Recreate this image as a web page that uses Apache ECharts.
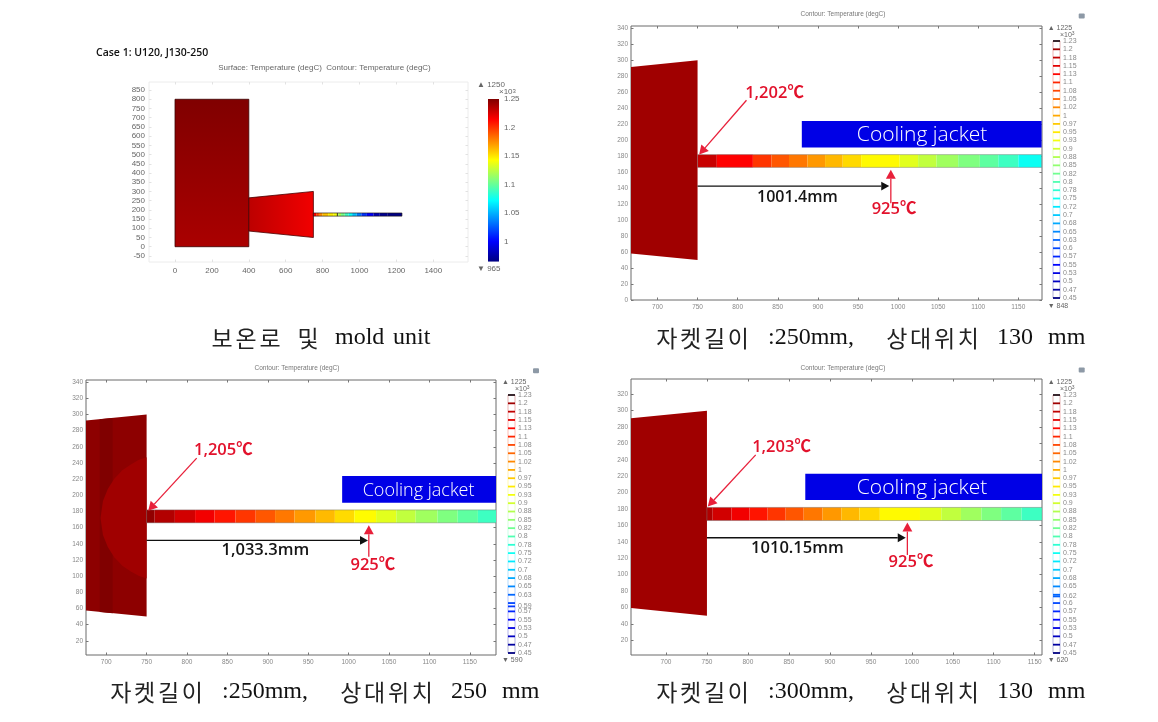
<!DOCTYPE html>
<html><head><meta charset="utf-8">
<style>html,body{margin:0;padding:0;background:#fff}#c{width:1158px;height:722px}</style>
<script src="https://cdn.jsdelivr.net/npm/echarts@6/dist/echarts.min.js"></script>
</head><body><div id="c"></div>
<script>
// ---------- tick values ----------
const ticksAX = [0,200,400,600,800,1000,1200,1400];
const ticksAY = [-50,0,50,100,150,200,250,300,350,400,450,500,550,600,650,700,750,800,850];
const ticksZoomX = [700,750,800,850,900,950,1000,1050,1100,1150];
const ticksBY = [0,20,40,60,80,100,120,140,160,180,200,220,240,260,280,300,320,340];
const ticksCY = [20,40,60,80,100,120,140,160,180,200,220,240,260,280,300,320,340];
const ticksDY = [20,40,60,80,100,120,140,160,180,200,220,240,260,280,300,320];
const ticksABar = [1000,1050,1100,1150,1200,1250];

// ---------- geometry (model coordinates, mm) ----------
const furnace = [[0,0],[400,0],[400,800],[0,800]];
const mold = [[400,85],[750,50],[750,300],[400,265]];
const stripA = [166,183];
const stripZoom = [166,182];

// ---------- temperature readings (degC) ----------
const panelAStripEdges = [750,765,780,800,830,860,885,900,920,940,960,985,1010,1040,1075,1110,1150,1230];
const panelAStripTemps = [1215,1195,1175,1160,1148,1140,1120,1105,1090,1075,1055,1035,1015,1000,980,970,966];
const panelAFurnaceTemps = [1250,1238];
const panelAMoldTemps = [1233,1218];
const panelABarRange = [965,1250];
const panelBStripEdges = [750,774,819,842,864,887,909,931,954,1002,1025,1048,1075,1102,1125,1150,1179];
const panelBStripTemps = [1170,1128,1088,1063,1038,1013,988,963,938,912,887,862,837,812,787,750];
const panelCStripEdges = [750,760,785,810,834,860,885,909,933,959,983,1007,1034,1059,1083,1110,1135,1160,1183];
const panelCStripTemps = [1212,1187,1162,1137,1112,1087,1062,1037,1012,987,962,937,912,887,862,837,812,787];
const panelDStripEdges = [750,757,780,802,824,846,868,891,914,936,961,1010,1036,1060,1085,1109,1134,1159];
const panelDStripTemps = [1188,1163,1138,1113,1088,1063,1038,1013,988,963,938,912,887,862,837,812,787];
const panelMoldTemp = 1200;
const panelCOuterTemp = 1215;
const panelCStripe = [[692,55.8],[708,54.2],[708,295.8],[692,294.2]];
const panelCStripeTemp = 1226;
const panelCContour = [[750,247],[740,243.6],[730,238],[720,231],[710,220.6],[702,208],[696,193],[693,172],[696,151],[702,136],[710,123.4],[720,113],[730,106],[740,100.4],[750,97]];

// ---------- jackets and annotations (model coordinates) ----------
const panelBJacket = [880,1179,191,224];
const panelCJacket = [992,1183,191,224];
const panelDJacket = [870,1159,191,223];
const panelBJacketLabel = ["Cooling jacket",1030,206.5];
const panelCJacketLabel = ["Cooling jacket",1086.6,205.7];
const panelDJacketLabel = ["Cooling jacket",1012.5,206];
const panelBTempNotes = [["1,202℃",846,259],["925℃",995,113]];
const panelCTempNotes = [["1,205℃",845,256],["925℃",1030,113]];
const panelDTempNotes = [["1,203℃",841,255],["925℃",999,114.6]];
const panelBLengthNote = ["1001.4mm",874.5,128.5];
const panelCLengthNote = ["1,033.3mm",897,131.5];
const panelDLengthNote = ["1010.15mm",860.4,131.7];
const panelBRedArrows = [[811,250,752,182],[991,121,991,163]];
const panelCRedArrows = [[812,246,752,181],[1025,124,1025,163]];
const panelDRedArrows = [[809.5,246,751,183],[994.6,124,994.6,163.5]];
const panelBBlackArrow = [750,142.6,989,142.6];
const panelCBlackArrow = [750,144.3,1024,144.3];
const panelDBlackArrow = [750,145,992.6,145];

// ---------- contour legend levels ----------
const levelsBase = [1225,1200,1175,1150,1125,1100,1075,1050,1025,1000,975,950,925,900,875,850,825,800,775,750,725,700,675,650,625,600,575,550,525,500,475,450];
const labelsBase = ["1.23","1.2","1.18","1.15","1.13","1.1","1.08","1.05","1.02","1","0.97","0.95","0.93","0.9","0.88","0.85","0.82","0.8","0.78","0.75","0.72","0.7","0.68","0.65","0.63","0.6","0.57","0.55","0.53","0.5","0.47","0.45"];
const levelsC = [1225,1200,1175,1150,1125,1100,1075,1050,1025,1000,975,950,925,900,875,850,825,800,775,750,725,700,675,650,625,600,590,575,550,525,500,475,450];
const labelsC = ["1.23","1.2","1.18","1.15","1.13","1.1","1.08","1.05","1.02","1","0.97","0.95","0.93","0.9","0.88","0.85","0.82","0.8","0.78","0.75","0.72","0.7","0.68","0.65","0.63","","0.59","0.57","0.55","0.53","0.5","0.47","0.45"];
const levelsD = [1225,1200,1175,1150,1125,1100,1075,1050,1025,1000,975,950,925,900,875,850,825,800,775,750,725,700,675,650,625,620,600,575,550,525,500,475,450];
const labelsD = ["1.23","1.2","1.18","1.15","1.13","1.1","1.08","1.05","1.02","1","0.97","0.95","0.93","0.9","0.88","0.85","0.82","0.8","0.78","0.75","0.72","0.7","0.68","0.65","","0.62","0.6","0.57","0.55","0.53","0.5","0.47","0.45"];
const scaleZoom = [450,1225];

// ---------- texts ----------
const caseLabel = "Case 1: U120, J130-250";
const titleA = "Surface: Temperature (degC)  Contour: Temperature (degC)";
const titleZoom = "Contour: Temperature (degC)";
const maxMinA = ["▲ 1250","▼ 965"];
const maxMinB = ["▲ 1225","▼ 848"];
const maxMinC = ["▲ 1225","▼ 590"];
const maxMinD = ["▲ 1225","▼ 620"];
const captionA = [["보온로",0],["및",86],["mold",125],["unit",183]];
const captionJ = [["자켓길이",0],[":250mm,",113],["상대위치",230],["130",342],["mm",393]];
const captionK = [["자켓길이",0],[":250mm,",113],["상대위치",230],["250",342],["mm",393]];
const captionL = [["자켓길이",0],[":300mm,",113],["상대위치",230],["130",342],["mm",393]];

// ---------- helpers ----------
const clamp = v => Math.max(0,Math.min(1,v));
function jet(t){
  const f = o => clamp(1.5-Math.abs(4*t-o));
  return 'rgb('+Math.round(255*f(3))+','+Math.round(255*f(2))+','+Math.round(255*f(1))+')';
}
const tempColor = (T,r) => jet(clamp((T-r[0])/(r[1]-r[0])));
const LG = (x2,y2,stops) => new echarts.graphic.LinearGradient(0,0,x2,y2,stops.map((c,i)=>({offset:i/(stops.length-1),color:c})));
const G = {
  gridColor:'#6a6a6a', label:'#888', red:'#e2122c', redLine:'#e8203a',
  sans:'"Open Sans","Noto Sans CJK KR",sans-serif', tick:'"Liberation Sans",sans-serif'
};
const polygon = (pts,api,fill,stroke) => ({type:'polygon',shape:{points:pts.map(p=>api.coord(p))},style:{fill,stroke:stroke||null,lineWidth:stroke?0.8:0}});
function boxShape(x0,x1,y0,y1,api,fill,stroke){
  return polygon([[x0,y0],[x1,y0],[x1,y1],[x0,y1]],api,fill,stroke);
}
function arrow(a,api,color,head,lw){
  const p=api.coord([a[0],a[1]]), q=api.coord([a[2],a[3]]);
  const d=Math.hypot(q[0]-p[0],q[1]-p[1]), u=[(q[0]-p[0])/d,(q[1]-p[1])/d], n=[-u[1],u[0]];
  const b=[q[0]-u[0]*head,q[1]-u[1]*head], w=head*0.55;
  return {type:'group',children:[
    {type:'line',shape:{x1:p[0],y1:p[1],x2:b[0],y2:b[1]},style:{stroke:color,lineWidth:lw}},
    {type:'polygon',shape:{points:[q,[b[0]+n[0]*w,b[1]+n[1]*w],[b[0]-n[0]*w,b[1]-n[1]*w]]},style:{fill:color}}
  ]};
}
function dataText(t,x,y,api,font,fill){
  const p=api.coord([x,y]);
  return {type:'text',style:{text:t,x:p[0],y:p[1],font,fill,align:'center',verticalAlign:'middle'}};
}
function overlay(idx,items){
  return {type:'custom',coordinateSystem:'cartesian2d',xAxisIndex:idx,yAxisIndex:idx,silent:true,clip:true,animation:false,
    data:items.map((_,i)=>[i]),renderItem:(p,api)=>items[p.dataIndex](api)};
}
function stripItems(edges,temps,range,ys,stroke){
  const out=temps.map((T,i)=>api=>boxShape(edges[i],edges[i+1],ys[0],ys[1],api,tempColor(T,range)));
  out.push(api=>boxShape(edges[0],edges[edges.length-1],ys[0],ys[1],api,'rgba(0,0,0,0)',stroke));
  return out;
}

// ---------- grids & axes ----------
const grids=[], xAxes=[], yAxes=[], series=[];
function addPanel(box,xr,yr,xt,yt,fs,frame,tickColor,xm){
  const g=grids.length;
  grids.push({left:box[0],top:box[1],width:box[2],height:box[3],show:true,borderColor:frame,borderWidth:1,backgroundColor:'transparent'});
  const idx=xAxes.length;
  const tick=(vals)=>({show:true,inside:true,length:2.5,customValues:vals,lineStyle:{color:tickColor,width:1}});
  const noLine={show:false,onZero:false};
  const fmt=v=>String(v);
  xAxes.push({type:'value',gridIndex:g,min:xr[0],max:xr[1],position:'bottom',splitLine:{show:false},axisLine:noLine,axisTick:tick(xt),
    axisLabel:{customValues:xt,formatter:fmt,fontSize:fs,color:G.label,fontFamily:G.tick,margin:xm,hideOverlap:false}});
  yAxes.push({type:'value',gridIndex:g,min:yr[0],max:yr[1],position:'left',splitLine:{show:false},axisLine:noLine,axisTick:tick(yt),
    axisLabel:{customValues:yt,formatter:fmt,fontSize:fs,color:G.label,fontFamily:G.tick,margin:3,hideOverlap:false}});
  xAxes.push({type:'value',gridIndex:g,min:xr[0],max:xr[1],position:'top',splitLine:{show:false},axisLine:noLine,axisTick:tick(xt),axisLabel:{show:false}});
  yAxes.push({type:'value',gridIndex:g,min:yr[0],max:yr[1],position:'right',splitLine:{show:false},axisLine:noLine,axisTick:tick(yt),axisLabel:{show:false}});
  return idx;
}
function addLegend(box,levels,labels,range){
  const g=grids.length;
  grids.push({left:box[0],top:box[1],width:box[2],height:box[3],show:false});
  const idx=xAxes.length;
  xAxes.push({type:'value',gridIndex:g,min:0,max:1,show:false});
  yAxes.push({type:'value',gridIndex:g,min:range[0],max:range[1],show:false});
  const color=(T,i)=> i===0 ? '#241018' : tempColor(T,range);
  const items=[];
  levels.forEach((T,i)=>{
    if(i<levels.length-1) items.push(api=>{
      const a=api.coord([0,T]),b=api.coord([1,levels[i+1]]);
      return {type:'group',children:[
        {type:'line',shape:{x1:a[0],y1:a[1],x2:a[0],y2:b[1]},style:{stroke:color(levels[i+1],1),opacity:0.3,lineWidth:1}},
        {type:'line',shape:{x1:b[0],y1:a[1],x2:b[0],y2:b[1]},style:{stroke:color(levels[i+1],1),opacity:0.3,lineWidth:1}}]};
    });
  });
  levels.forEach((T,i)=>items.push(api=>{
    const a=api.coord([0,T]),b=api.coord([1,T]);
    return {type:'group',children:[
      {type:'line',shape:{x1:a[0],y1:a[1],x2:b[0],y2:a[1]},style:{stroke:color(T,i),lineWidth:1.8}},
      {type:'text',style:{text:labels[i],x:b[0]+3,y:a[1],font:'7px '+G.tick,fill:'#8a8a8a',align:'left',verticalAlign:'middle'}}]};
  }));
  const s=overlay(idx,items); s.clip=false; series.push(s);
}
function zoomItems(cfg){
  const it=[];
  cfg.body.forEach(f=>it.push(f));
  it.push(...stripItems(cfg.edges,cfg.temps,scaleZoom,stripZoom,'rgba(110,110,110,0.55)'));
  const j=cfg.jacket;
  it.push(api=>boxShape(j[0],j[1],j[2],j[3],api,'#0000e6'));
  it.push(api=>dataText(cfg.jl[0],cfg.jl[1],cfg.jl[2],api,'300 '+cfg.jf+'px '+G.sans,'#fff'));
  cfg.red.forEach(a=>it.push(api=>arrow(a,api,G.redLine,9,1.3)));
  it.push(api=>arrow(cfg.black,api,'#111',8,1.3));
  cfg.notes.forEach(n=>it.push(api=>dataText(n[0],n[1],n[2],api,'600 '+cfg.nf+'px '+G.sans,G.red)));
  it.push(api=>dataText(cfg.len[0],cfg.len[1],cfg.len[2],api,'600 '+cfg.lf+'px '+G.sans,'#151515'));
  return it;
}

// Panel A : whole unit
const rA=panelABarRange;
const ia=addPanel([149,82,319,180],[-141,1588],[-83,893.7],ticksAX,ticksAY,8,'#ececec','#e2e2e2',5);
xAxes[ia].axisLabel.color='#666'; yAxes[ia].axisLabel.color='#666';
yAxes[ia].axisLabel.margin=4;
const itemsA=[
  api=>polygon(furnace,api,LG(0,1,[tempColor(panelAFurnaceTemps[0],rA),tempColor(panelAFurnaceTemps[1],rA)]),'#3a0000'),
  api=>polygon(mold,api,LG(1,0,[tempColor(panelAMoldTemps[0],rA),tempColor(panelAMoldTemps[1],rA)]),'#4a0000'),
  ...stripItems(panelAStripEdges,panelAStripTemps,rA,stripA,'rgba(30,20,20,0.8)'),
  api=>{const a=api.coord([880,stripA[0]]),b=api.coord([880,stripA[1]]);return {type:'line',shape:{x1:a[0],y1:a[1],x2:b[0],y2:b[1]},style:{stroke:'#333',lineWidth:1}};}
];
series.push(overlay(ia,itemsA));

// Panel B
const ib=addPanel([631,26,411,274],[667,1179.5],[0,343],ticksZoomX,ticksBY,6.5,G.gridColor,'#777',4);
series.push(overlay(ib,zoomItems({
  body:[api=>polygon(mold,api,tempColor(panelMoldTemp,scaleZoom))],
  edges:panelBStripEdges,temps:panelBStripTemps,jacket:panelBJacket,jl:panelBJacketLabel,jf:21,
  red:panelBRedArrows,black:panelBBlackArrow,notes:panelBTempNotes,nf:16.5,len:panelBLengthNote,lf:16})));

// Panel C
const ic=addPanel([86,380,410,275],[675,1182.4],[2.5,342.7],ticksZoomX,ticksCY,6.5,G.gridColor,'#777',4);
series.push(overlay(ic,zoomItems({
  body:[
    api=>polygon(mold,api,tempColor(panelCOuterTemp,scaleZoom)),
    api=>polygon(panelCStripe,api,tempColor(panelCStripeTemp,scaleZoom)),
    api=>polygon(panelCContour,api,tempColor(panelMoldTemp,scaleZoom))
  ],
  edges:panelCStripEdges,temps:panelCStripTemps,jacket:panelCJacket,jl:panelCJacketLabel,jf:18,
  red:panelCRedArrows,black:panelCBlackArrow,notes:panelCTempNotes,nf:16.5,len:panelCLengthNote,lf:16.5})));

// Panel D
const id=addPanel([631,379,411,276],[657.3,1158.9],[2,338.6],ticksZoomX,ticksDY,6.5,G.gridColor,'#777',4);
series.push(overlay(id,zoomItems({
  body:[api=>polygon(mold,api,tempColor(panelMoldTemp,scaleZoom))],
  edges:panelDStripEdges,temps:panelDStripTemps,jacket:panelDJacket,jl:panelDJacketLabel,jf:21,
  red:panelDRedArrows,black:panelDBlackArrow,notes:panelDTempNotes,nf:16.5,len:panelDLengthNote,lf:16.5})));

// Legends B, C, D
addLegend([1053,41,7,257],levelsBase,labelsBase,scaleZoom);
addLegend([508,395,7,258],levelsC,labelsC,scaleZoom);
addLegend([1053,395,7,258],levelsD,labelsD,scaleZoom);

// Colour bar A
const gBar=grids.length;
grids.push({left:488,top:99,width:11,height:162.7,show:false});
const iBar=xAxes.length;
xAxes.push({type:'value',gridIndex:gBar,min:0,max:1,show:false});
yAxes.push({type:'value',gridIndex:gBar,min:rA[0],max:rA[1],position:'right',splitLine:{show:false},axisLine:{show:false,onZero:false},axisTick:{show:false},
  axisLabel:{customValues:ticksABar,formatter:v=>String(v/1000),fontSize:8,color:'#666',fontFamily:G.tick,margin:5,hideOverlap:false}});
series.push(overlay(iBar,[api=>boxShape(0,1,rA[0],rA[1],api,
  LG(0,1,Array.from({length:33},(_,i)=>jet(1-i/32))))]));

// ---------- free text ----------
const gfx=[];
const txt=(t,x,y,font,fill,align)=>gfx.push({type:'text',silent:true,style:{text:t,x,y,font,fill,align:align||'center',verticalAlign:'middle'}});
txt(caseLabel,96,53,'600 10.5px '+G.sans,'#111','left');
txt(titleA,324.5,68,'8px '+G.tick,'#666');
txt(titleZoom,843,14,'6.5px '+G.tick,'#777');
txt(titleZoom,297,368.7,'6.5px '+G.tick,'#777');
txt(titleZoom,843,368,'6.5px '+G.tick,'#777');
const mm=(pair,x,yTop,yBot,fs)=>{txt(pair[0],x,yTop,fs+'px '+G.tick,'#666','left');txt(pair[1],x,yBot,fs+'px '+G.tick,'#666','left');};
mm(maxMinA,477,85,269,8); mm(maxMinB,1047.7,27.7,305.7,7); mm(maxMinC,502,382,660,7); mm(maxMinD,1047.7,381.7,660,7);
const sci=(x,y,fs)=>gfx.push({type:'text',silent:true,style:{rich:{a:{font:fs+'px '+G.tick,fill:'#666'},b:{font:(fs-2)+'px '+G.tick,fill:'#666',verticalAlign:'top'}},text:'{a|×10}{b|3}',x,y,align:'left',verticalAlign:'middle'}});
sci(499,92,8); sci(1060,35,7); sci(515,389,7); sci(1060,389,7);
[[1081.7,16],[536,370.7],[1081.7,370]].forEach(p=>gfx.push({type:'rect',silent:true,shape:{x:p[0]-3,y:p[1]-2.5,width:6,height:5,r:1},style:{fill:'#8d99a6'}}));

const capFont='"Liberation Serif","Noto Sans CJK KR",serif';
function caption(words,x,y,adv){
  words.forEach(w=>{
    if(/[\uAC00-\uD7A3]/.test(w[0])){
      [...w[0]].forEach((ch,i)=>txt(ch,x+w[1]+adv/2+i*adv,y,'23px "Noto Sans CJK KR"','#222','center'));
    } else txt(w[0],x+w[1],y,'24px '+capFont,'#111','left');
  });
}
caption(captionA,210,338,24);
caption(captionJ,655,338,23.8);
caption(captionK,109,692,23.8);
caption(captionL,655,692,23.8);

const chart=echarts.init(document.getElementById('c'),null,{renderer:'canvas'});
chart.setOption({animation:false,backgroundColor:'#fff',grid:grids,xAxis:xAxes,yAxis:yAxes,series,graphic:{elements:gfx}});
</script></body></html>
